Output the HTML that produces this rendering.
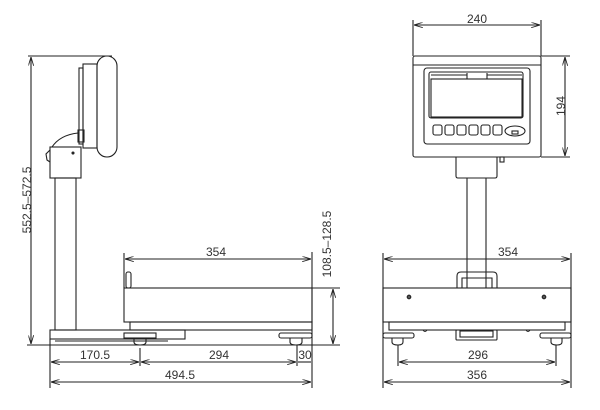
<!DOCTYPE html>
<html><head><meta charset="utf-8"><style>
html,body{margin:0;padding:0;background:#fff;}
svg{display:block}
text{font-family:"Liberation Sans","DejaVu Sans",sans-serif;font-size:12px;fill:#333}
</style></head><body>
<svg width="600" height="410" viewBox="0 0 600 410" xmlns="http://www.w3.org/2000/svg">
<defs>
<marker id="a" viewBox="0 0 10 6" refX="10" refY="3" markerWidth="8" markerHeight="5" orient="auto-start-reverse"><path d="M0,0 L10,3 L0,6" fill="none" stroke="#222" stroke-width="1"/></marker>
</defs>
<g fill="none" stroke="#222" stroke-width="1.1">
<line x1="28" y1="56" x2="112" y2="56"/>
<line x1="31" y1="57" x2="31" y2="344" marker-start="url(#a)" marker-end="url(#a)"/>
<rect x="97" y="56" width="20" height="101" rx="10"/>
<rect x="83" y="64" width="14" height="84"/>
<rect x="79" y="68" width="4" height="76"/>
<rect x="78" y="130" width="6" height="12"/>
<path d="M52,147 Q60,135 78,133"/>
<rect x="50" y="147" width="31" height="31"/>
<path d="M50,150 L46,154 L47,160 L50,162"/>
<circle cx="73" cy="153" r="1" fill="#333"/>
<rect x="55" y="178" width="21" height="152"/>
<rect x="50" y="330" width="135" height="9"/>
<line x1="55" y1="341" x2="168" y2="341"/>
<rect x="124" y="288" width="188" height="34"/>
<rect x="130" y="322" width="182" height="8"/>
<rect x="126" y="272" width="5" height="16" rx="2"/>
<rect x="124" y="333" width="32" height="5"/>
<path d="M134,338 v4 q0,3 6,3 q6,0 6,-3 v-4"/>
<rect x="279" y="333" width="33" height="5" rx="2"/>
<path d="M290,338 v4 q0,3 6,3 q6,0 6,-3 v-4"/>
<line x1="27" y1="345" x2="340" y2="345"/>
<line x1="124" y1="253" x2="124" y2="288"/>
<line x1="312" y1="252" x2="312" y2="388"/>
<line x1="125" y1="259" x2="311" y2="259" marker-start="url(#a)" marker-end="url(#a)"/>
<line x1="312" y1="288" x2="340" y2="288"/>
<line x1="333" y1="289" x2="333" y2="344" marker-start="url(#a)" marker-end="url(#a)"/>
<line x1="50" y1="339" x2="50" y2="388"/>
<line x1="140" y1="348" x2="140" y2="366"/>
<line x1="297" y1="345" x2="297" y2="366"/>
<line x1="51" y1="362" x2="139" y2="362" marker-start="url(#a)" marker-end="url(#a)"/>
<line x1="141" y1="362" x2="296" y2="362" marker-start="url(#a)" marker-end="url(#a)"/>
<line x1="298" y1="362" x2="311" y2="362"/>
<line x1="51" y1="382" x2="311" y2="382" marker-start="url(#a)" marker-end="url(#a)"/>
<line x1="413" y1="20" x2="413" y2="56"/>
<line x1="541" y1="20" x2="541" y2="56"/>
<line x1="414" y1="25" x2="540" y2="25" marker-start="url(#a)" marker-end="url(#a)"/>
<rect x="413" y="56" width="128" height="101" rx="2"/>
<line x1="413" y1="65" x2="541" y2="65"/>
<rect x="424" y="68" width="106" height="76" rx="3"/>
<rect x="429" y="72" width="94" height="46" rx="2"/>
<rect x="431" y="79" width="91" height="38"/>
<line x1="431" y1="75" x2="467" y2="75"/><line x1="487" y1="75" x2="522" y2="75"/>
<line x1="467" y1="73" x2="467" y2="79"/><line x1="487" y1="73" x2="487" y2="79"/>
<rect x="433" y="125" width="9" height="10" rx="2"/>
<rect x="445" y="125" width="9" height="10" rx="2"/>
<rect x="457" y="125" width="9" height="10" rx="2"/>
<rect x="469" y="125" width="9" height="10" rx="2"/>
<rect x="481" y="125" width="9" height="10" rx="2"/>
<rect x="493" y="125" width="9" height="10" rx="2"/>
<ellipse cx="515" cy="131" rx="10" ry="5"/>
<rect x="512" y="131" width="6" height="3"/>
<line x1="541" y1="56" x2="570" y2="56"/>
<line x1="541" y1="157" x2="570" y2="157"/>
<line x1="565" y1="57" x2="565" y2="156" marker-start="url(#a)" marker-end="url(#a)"/>
<path d="M456,157 V176 q0,2 2,2 H495 q2,0 2,-2 V157"/>
<rect x="500" y="157" width="4" height="5"/>
<line x1="467" y1="178" x2="467" y2="288"/>
<line x1="486" y1="178" x2="486" y2="288"/>
<path d="M457,288 V276 q0,-4 4,-4 H493 q4,0 4,4 V288"/>
<path d="M462,288 V278 h30 V288"/>
<line x1="383" y1="253" x2="383" y2="388"/>
<line x1="571" y1="253" x2="571" y2="388"/>
<line x1="384" y1="259" x2="570" y2="259" marker-start="url(#a)" marker-end="url(#a)"/>
<rect x="383" y="288" width="188" height="34"/>
<circle cx="409" cy="297" r="1.8" fill="#555"/>
<circle cx="544" cy="297" r="1.8" fill="#555"/>
<rect x="389" y="322" width="176" height="8"/>
<rect x="383" y="333" width="31" height="5" rx="2"/>
<path d="M392,338 v4 q0,3 6,3 q5,0 5,-3 v-4"/>
<rect x="540" y="333" width="31" height="5" rx="2"/>
<path d="M551,338 v4 q0,3 6,3 q5,0 5,-3 v-4"/>
<rect x="456" y="330" width="41" height="10" rx="1"/>
<rect x="460" y="331" width="33" height="6"/>
<path d="M423,330 q2,3 4,0"/><path d="M526,330 q2,3 4,0"/>
<line x1="398" y1="345" x2="398" y2="366"/>
<line x1="556" y1="345" x2="556" y2="366"/>
<line x1="399" y1="362" x2="555" y2="362" marker-start="url(#a)" marker-end="url(#a)"/>
<line x1="384" y1="382" x2="570" y2="382" marker-start="url(#a)" marker-end="url(#a)"/>
</g>
<g>
<text x="27" y="200" text-anchor="middle" transform="rotate(-90 27 200)" dy="4">552.5–572.5</text>
<text x="327" y="244" text-anchor="middle" transform="rotate(-90 327 244)" dy="4">108.5–128.5</text>
<text x="216" y="256" text-anchor="middle">354</text>
<text x="95" y="359" text-anchor="middle">170.5</text>
<text x="219" y="359" text-anchor="middle">294</text>
<text x="305" y="359" text-anchor="middle">30</text>
<text x="180" y="379" text-anchor="middle">494.5</text>
<text x="477" y="23" text-anchor="middle">240</text>
<text x="561" y="106" text-anchor="middle" transform="rotate(-90 561 106)" dy="4">194</text>
<text x="508" y="256" text-anchor="middle">354</text>
<text x="478" y="359" text-anchor="middle">296</text>
<text x="477" y="379" text-anchor="middle">356</text>
</g>
</svg>
</body></html>
